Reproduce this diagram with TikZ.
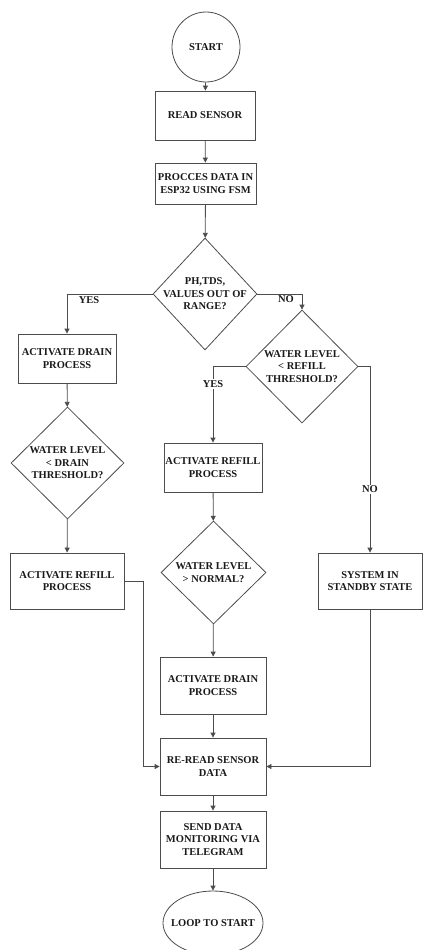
\documentclass[tikz,border=0pt]{standalone}
\usepackage{fontspec}
\setmainfont{Liberation Serif}
\usetikzlibrary{shapes.geometric,arrows.meta}
\begin{document}
\begin{tikzpicture}[x=1pt,y=-1pt,
  every node/.style={font=\fontsize{10.5}{12.5}\selectfont\bfseries, text=black!90},
  shp/.style={draw=black!70, line width=0.8pt, inner sep=0pt},
  box/.style={shp, rectangle, align=center},
  dia/.style={shp, diamond},
  oval/.style={shp, ellipse},
  txt/.style={label={[align=center]center:{#1}}},
  ln/.style={draw=black!70, line width=0.8pt},
  arr/.style={ln, -{Triangle[length=5pt,width=5pt]}},
  lbl/.style={inner sep=1pt}
]
\path[use as bounding box] (0,0) rectangle (423,950);
\clip (0,0) rectangle (423,950);

\node[oval, minimum width=68pt, minimum height=70pt, txt={START}] (start) at (206,47) {};
\node[box, minimum width=100pt, minimum height=49pt] (read) at (205,115.5) {READ SENSOR};
\node[box, minimum width=101pt, minimum height=41pt] (proc) at (205.5,183.5) {PROCCES DATA IN\\ESP32 USING FSM};
\node[dia, minimum width=104pt, minimum height=112pt, txt={PH,TDS,\\VALUES OUT OF\\RANGE?}] (d1) at (205,294) {};

\node[box, minimum width=98pt, minimum height=49pt] (drainL) at (67,358.5) {ACTIVATE DRAIN\\PROCESS};
\node[dia, minimum width=113pt, minimum height=112pt, txt={WATER LEVEL\\< DRAIN\\THRESHOLD?}] (d3) at (67.5,463) {};
\node[box, minimum width=114pt, minimum height=56pt] (refillL) at (67,581) {ACTIVATE REFILL\\PROCESS};

\node[dia, minimum width=112pt, minimum height=113pt, txt={WATER LEVEL\\< REFILL\\THRESHOLD?}] (d2) at (302,366.5) {};
\node[box, minimum width=98pt, minimum height=49pt] (refillM) at (213,467.5) {ACTIVATE REFILL\\PROCESS};
\node[dia, minimum width=105pt, minimum height=103pt, txt={WATER LEVEL\\> NORMAL?}] (d4) at (213.5,572.5) {};
\node[box, minimum width=104pt, minimum height=56pt] (standby) at (370,581) {SYSTEM IN\\STANDBY STATE};

\node[box, minimum width=106pt, minimum height=57pt] (drainM) at (213,685.5) {ACTIVATE DRAIN\\PROCESS};
\node[box, minimum width=106pt, minimum height=57pt] (reread) at (213,766.5) {RE-READ SENSOR\\DATA};
\node[box, minimum width=106pt, minimum height=57pt] (send) at (213,839.5) {SEND DATA\\MONITORING VIA\\TELEGRAM};
\node[oval, minimum width=100pt, minimum height=64pt, txt={LOOP TO START}] (loop) at (213,923) {};

\coordinate (cL) at (143,581);
\coordinate (cL2) at (143,766.5);
\coordinate (cR) at (370,766.5);

\draw[arr] (start) -- (read);
\draw[arr] (read) -- (proc);
\draw[arr] (proc) -- (d1);
\draw[arr] (d1.west) -| (drainL.north);
\node[lbl] at (89,300) {YES};
\draw[arr] (d1.east) -| (d2.north);
\node[lbl] at (286,299) {NO};
\draw[arr] (drainL) -- (d3);
\draw[arr] (d3) -- (refillL);
\draw[arr] (d2.west) -| (refillM.north) node[pos=0.615, fill=white, lbl] {YES};
\draw[arr] (d2.east) -| (standby.north) node[pos=0.83, fill=white, lbl] {NO};
\draw[arr] (refillM) -- (d4);
\draw[arr] (d4) -- (drainM);
\draw[arr] (drainM) -- (reread);
\draw[arr] (reread) -- (send);
\draw[arr] (send) -- (loop);
\draw[arr] (refillL.east) -- (cL) -- (cL2) -- (reread.west);
\draw[arr] (standby.south) -- (cR) -- (reread.east);
\end{tikzpicture}
\end{document}
